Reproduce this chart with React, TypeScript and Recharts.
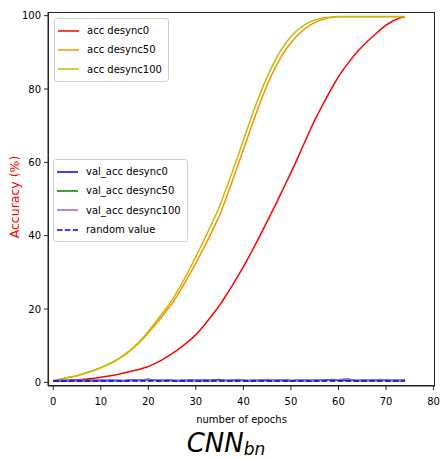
import React from "react"
import { Line, LineChart, XAxis, YAxis } from "recharts"

const accDesync0 = [
  0.3, 0.35, 0.4, 0.5, 0.6, 0.7, 0.8, 0.9, 1.05, 1.2,
  1.4, 1.6, 1.8, 2.0, 2.3, 2.6, 2.9, 3.2, 3.5, 3.9,
  4.3, 4.9, 5.5, 6.2, 7.0, 7.8, 8.7, 9.7, 10.7, 11.8,
  13.0, 14.4, 16.0, 17.6, 19.3, 21.0, 23.0, 25.0, 27.1, 29.3,
  31.5, 33.9, 36.3, 38.8, 41.3, 43.9, 46.5, 49.1, 51.8, 54.5,
  57.2, 60.0, 62.9, 65.8, 68.7, 71.5, 74.0, 76.5, 78.9, 81.2,
  83.4, 85.3, 87.0, 88.7, 90.2, 91.6, 92.9, 94.1, 95.2, 96.4,
  97.4, 98.2, 98.9, 99.4, 99.7,
]

const accDesync50 = [
  0.5, 0.7, 1.0, 1.3, 1.5, 1.8, 2.2, 2.6, 3.0, 3.5,
  4.0, 4.5, 5.1, 5.8, 6.6, 7.4, 8.4, 9.5, 10.7, 12.0,
  13.5, 15.0, 16.5, 18.1, 19.8, 21.5, 23.5, 25.6, 27.9, 30.2,
  32.5, 35.0, 37.5, 40.1, 42.8, 45.5, 48.9, 52.5, 56.1, 59.8,
  63.5, 67.2, 70.9, 74.5, 77.9, 81.1, 84.0, 86.6, 88.9, 90.9,
  92.6, 94.1, 95.4, 96.5, 97.4, 98.1, 98.7, 99.1, 99.4, 99.6,
  99.7, 99.7, 99.7, 99.7, 99.7, 99.7, 99.7, 99.7, 99.7, 99.7,
  99.7, 99.7, 99.7, 99.7, 99.7,
]

const accDesync100 = [
  0.5, 0.7, 1.0, 1.3, 1.5, 1.8, 2.2, 2.6, 3.0, 3.5,
  4.0, 4.6, 5.2, 5.9, 6.7, 7.6, 8.6, 9.7, 10.9, 12.3,
  13.9, 15.5, 17.2, 18.9, 20.6, 22.5, 24.6, 26.8, 29.2, 31.7,
  34.3, 36.9, 39.6, 42.3, 45.1, 48.0, 51.5, 55.0, 58.6, 62.3,
  66.0, 69.8, 73.5, 77.0, 80.3, 83.3, 86.1, 88.6, 90.8, 92.7,
  94.3, 95.6, 96.7, 97.6, 98.3, 98.8, 99.2, 99.5, 99.6, 99.7,
  99.75, 99.75, 99.75, 99.75, 99.75, 99.75, 99.75, 99.75, 99.75, 99.75,
  99.75, 99.75, 99.75, 99.75, 99.75,
]

const valDesync0 = [
  0.4, 0.45, 0.5, 0.42, 0.55, 0.5, 0.45, 0.6, 0.5, 0.48,
  0.55, 0.5, 0.6, 0.52, 0.45, 0.5, 0.55, 0.6, 0.5, 0.65,
  0.8, 0.6, 0.5, 0.55, 0.6, 0.5, 0.45, 0.55, 0.5, 0.6,
  0.5, 0.55, 0.5, 0.45, 0.6, 0.55, 0.5, 0.5, 0.6, 0.55,
  0.5, 0.45, 0.55, 0.5, 0.6, 0.5, 0.55, 0.5, 0.6, 0.5,
  0.45, 0.55, 0.5, 0.6, 0.5, 0.55, 0.5, 0.6, 0.55, 0.5,
  0.6, 0.75, 0.85, 0.6, 0.5, 0.55, 0.5, 0.6, 0.55, 0.7,
  0.6, 0.5, 0.55, 0.5, 0.6,
]

const valDesync50 = [
  0.4, 0.5, 0.45, 0.55, 0.5, 0.4, 0.5, 0.45, 0.55, 0.5,
  0.45, 0.5, 0.4, 0.55, 0.5, 0.45, 0.5, 0.55, 0.6, 0.7,
  0.85, 0.65, 0.5, 0.45, 0.5, 0.55, 0.5, 0.45, 0.5, 0.55,
  0.5, 0.45, 0.55, 0.6, 0.7, 0.8, 0.6, 0.5, 0.45, 0.5,
  0.55, 0.5, 0.45, 0.5, 0.55, 0.5, 0.45, 0.5, 0.55, 0.5,
  0.45, 0.5, 0.55, 0.5, 0.45, 0.5, 0.55, 0.6, 0.7, 0.8,
  0.65, 0.5, 0.55, 0.5, 0.45, 0.5, 0.55, 0.5, 0.45, 0.5,
  0.55, 0.5, 0.45, 0.5, 0.55,
]

const valDesync100 = [
  0.45, 0.5, 0.55, 0.5, 0.45, 0.55, 0.6, 0.5, 0.45, 0.5,
  0.55, 0.5, 0.6, 0.55, 0.5, 0.45, 0.55, 0.5, 0.6, 0.7,
  0.75, 0.6, 0.7, 0.6, 0.75, 0.55, 0.5, 0.55, 0.5, 0.6,
  0.55, 0.65, 0.8, 0.6, 0.5, 0.55, 0.5, 0.6, 0.7, 0.8,
  0.6, 0.5, 0.55, 0.6, 0.7, 0.8, 0.6, 0.5, 0.6, 0.75,
  0.6, 0.5, 0.55, 0.5, 0.6, 0.5, 0.55, 0.5, 0.6, 0.55,
  0.7, 0.85, 0.9, 0.7, 0.55, 0.5, 0.55, 0.6, 0.7, 0.8,
  0.6, 0.5, 0.55, 0.5, 0.6,
]

const randomValue = 0.39

const xTicks = [0, 10, 20, 30, 40, 50, 60, 70, 80]
const yTicks = [0, 20, 40, 60, 80, 100]

const data = accDesync0.map((v, i) => ({
  epoch: i,
  acc0: v,
  acc50: accDesync50[i],
  acc100: accDesync100[i],
  val0: valDesync0[i],
  val50: valDesync50[i],
  val100: valDesync100[i],
  random: randomValue,
}))

const FONT = "'DejaVu Sans', sans-serif"
const tickStyle = { fontSize: 10, fill: "#000", fontFamily: FONT }

const accLegend = [
  { name: "acc desync0", color: "#ff0000" },
  { name: "acc desync50", color: "#ff8c00" },
  { name: "acc desync100", color: "#bfbf00" },
]

const valLegend = [
  { name: "val_acc desync0", color: "#0000ff" },
  { name: "val_acc desync50", color: "#008000" },
  { name: "val_acc desync100", color: "#9467d4" },
  { name: "random value", color: "#0000ff", dashed: true },
]

function LegendBox({ items, left, top }: { items: any[]; left: number; top: number }) {
  return (
    <div
      style={{
        position: "absolute",
        left,
        top,
        padding: "2px 6px 2px 3px",
        border: "1px solid #d0d0d0",
        borderRadius: 3,
        background: "rgba(255,255,255,0.8)",
        fontFamily: FONT,
        fontSize: 10,
        color: "#000",
      }}
    >
      {items.map((it) => (
        <div key={it.name} style={{ display: "flex", alignItems: "center", height: 19.3 }}>
          <svg width={21} height={4} style={{ marginRight: 8 }}>
            <line
              x1={0}
              y1={2}
              x2={21}
              y2={2}
              stroke={it.color}
              strokeWidth={1.5}
              strokeDasharray={it.dashed ? "5.5 2.4" : undefined}
            />
          </svg>
          <span>{it.name}</span>
        </div>
      ))}
    </div>
  )
}

export default function App() {
  return (
    <div style={{ position: "absolute", left: 0, top: 0, width: 442, height: 458, background: "#fff", overflow: "hidden" }}>
      <LineChart
        width={442}
        height={458}
        data={data}
        margin={{ top: 12, right: 7, bottom: 42, left: 8 }}
      >
        <XAxis
          dataKey="epoch"
          type="number"
          domain={[-1.1, 80.3]}
          ticks={xTicks}
          allowDataOverflow
          tick={tickStyle}
          tickSize={4}
          tickMargin={8}
          height={30}
          stroke="#222"
          interval={0}
        />
        <YAxis
          type="number"
          domain={[-1, 101]}
          ticks={yTicks}
          allowDataOverflow
          tick={tickStyle}
          tickSize={4}
          tickMargin={3}
          width={40}
          stroke="#222"
          interval={0}
        />
        <Line dataKey="acc0" stroke="#ff0000" strokeWidth={1.5} dot={false} isAnimationActive={false} />
        <Line dataKey="acc50" stroke="#ff8c00" strokeWidth={1.5} dot={false} isAnimationActive={false} />
        <Line dataKey="acc100" stroke="#bfbf00" strokeWidth={1.5} dot={false} isAnimationActive={false} />
        <Line dataKey="val0" stroke="#0000ff" strokeWidth={1.5} dot={false} isAnimationActive={false} />
        <Line dataKey="val50" stroke="#008000" strokeWidth={1.5} dot={false} isAnimationActive={false} />
        <Line dataKey="val100" stroke="#9467d4" strokeWidth={1.5} dot={false} isAnimationActive={false} />
        <Line dataKey="random" stroke="#0000ff" strokeWidth={1.5} strokeDasharray="5.5 2.4" dot={false} isAnimationActive={false} />
      </LineChart>

      {/* plot frame (matplotlib spines) */}
      <div
        style={{
          position: "absolute",
          left: 48,
          top: 12,
          width: 387,
          height: 374,
          boxSizing: "border-box",
          border: "1px solid #222",
          pointerEvents: "none",
        }}
      />

      <LegendBox items={accLegend} left={54} top={18} />
      <LegendBox items={valLegend} left={53} top={159} />

      <div
        style={{
          position: "absolute",
          left: 13.5,
          top: 197,
          transform: "translate(-50%, -50%) rotate(-90deg)",
          whiteSpace: "nowrap",
          fontFamily: FONT,
          fontSize: 12.5,
          color: "#ff0000",
        }}
      >
        Accuracy (%)
      </div>
      <div
        style={{
          position: "absolute",
          left: 241.5,
          top: 419,
          transform: "translate(-50%, -50%)",
          whiteSpace: "nowrap",
          fontFamily: FONT,
          fontSize: 10,
          color: "#000",
        }}
      >
        number of epochs
      </div>
      <div
        style={{
          position: "absolute",
          left: 226,
          top: 428,
          transform: "translateX(-50%)",
          whiteSpace: "nowrap",
          fontFamily: FONT,
          fontStyle: "italic",
          fontSize: 26,
          lineHeight: "30px",
          color: "#000",
        }}
      >
        CNN<span style={{ fontSize: 17, position: "relative", top: 3 }}>bn</span>
      </div>
    </div>
  )
}
